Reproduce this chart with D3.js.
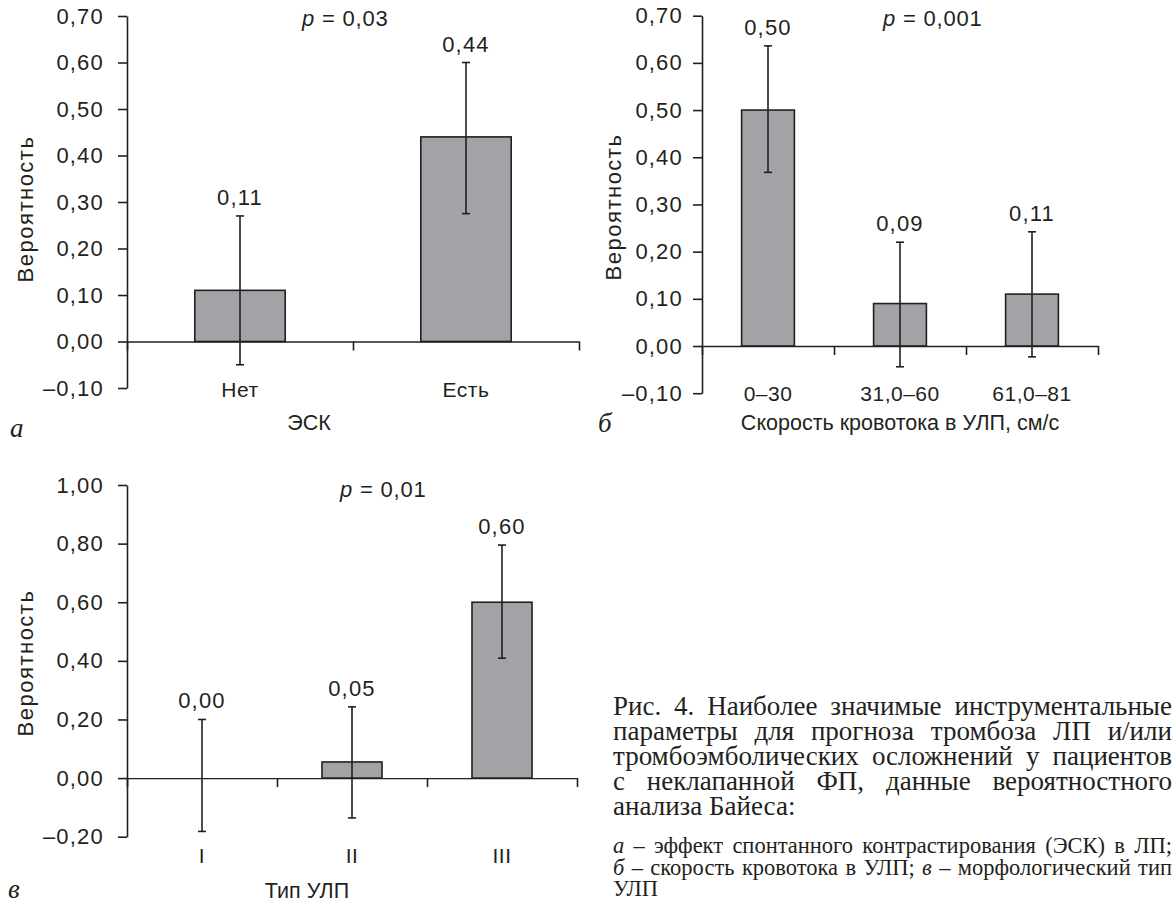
<!DOCTYPE html>
<html><head><meta charset="utf-8">
<script src="https://cdn.jsdelivr.net/npm/d3@7"></script>
<style>
html,body{margin:0;padding:0;background:#fff;}
svg{display:block;}
.sans{font-family:"Liberation Sans",Arial,Helvetica,sans-serif;}
.serif{font-family:"Liberation Serif","Times New Roman",serif;}
</style></head>
<body>
<svg id="chart" width="1176" height="906"></svg>
<script>
// ---------- DATA ----------
const catsA = ["Нет", "Есть"];
const valsA = [0.11, 0.44];
const lowA = [-0.05, 0.275];
const highA = [0.27, 0.60];
const labelsA = ["0,11", "0,44"];
const ticksA = [-0.1, 0, 0.1, 0.2, 0.3, 0.4, 0.5, 0.6, 0.7];

const catsB = ["0–30", "31,0–60", "61,0–81"];
const valsB = [0.50, 0.09, 0.11];
const lowB = [0.368, -0.044, -0.023];
const highB = [0.636, 0.22, 0.242];
const labelsB = ["0,50", "0,09", "0,11"];
const ticksB = [-0.1, 0, 0.1, 0.2, 0.3, 0.4, 0.5, 0.6, 0.7];

const catsC = ["I", "II", "III"];
const valsC = [0.0, 0.055, 0.60];
const lowC = [-0.182, -0.136, 0.409];
const highC = [0.20, 0.243, 0.795];
const labelsC = ["0,00", "0,05", "0,60"];
const ticksC = [-0.2, 0, 0.2, 0.4, 0.6, 0.8, 1.0];

const pA = "0,03", pB = "0,001", pC = "0,01";
const yTitle = "Вероятность";
const xTitleA = "ЭСК", xTitleB = "Скорость кровотока в УЛП, см/с", xTitleC = "Тип УЛП";

const captionMain = [
  "Рис. 4. Наиболее значимые инструментальные",
  "параметры для прогноза тромбоза ЛП и/или",
  "тромбоэмболических осложнений у пациентов",
  "с неклапанной ФП, данные вероятностного",
  "анализа Байеса:"
];
const captionNotes = [
  [["а", true], ["–", false], ["эффект", false], ["спонтанного", false], ["контрастирования", false], ["(ЭСК)", false], ["в", false], ["ЛП;", false]],
  [["б", true], ["–", false], ["скорость", false], ["кровотока", false], ["в", false], ["УЛП;", false], ["в", true], ["–", false], ["морфологический", false], ["тип", false]],
  [["УЛП", false]]
];

// ---------- DRAW ----------
const svg = d3.select("#chart");
const INK = "#231f20";
const BAR = "#a2a3a6";
const fmt = v => (v < -1e-9 ? "–" : "") + Math.abs(v).toFixed(2).replace(".", ",");

function panel(o) {
  const g = svg.append("g").attr("class", "sans");
  const y = d3.scaleLinear().domain(o.yDomain).range(o.yRange);
  const x = d3.scaleBand().domain(o.cats).range(o.xRange).paddingInner(0.6).paddingOuter(0.3);
  const xb = d3.scaleLinear().domain([0, o.cats.length]).range(o.xRange);

  // y axis
  const ya = g.append("g").attr("transform", `translate(${o.xRange[0]},0)`)
    .call(d3.axisLeft(y).tickValues(o.ticks).tickFormat(fmt).tickSize(9).tickSizeOuter(0).tickPadding(o.tickPad));
  ya.select(".domain").attr("stroke", INK).attr("stroke-width", 1.6);
  ya.selectAll(".tick line").attr("stroke", INK).attr("stroke-width", 1.6);
  ya.selectAll(".tick text").attr("font-family", null).attr("font-size", 22).attr("fill", INK).attr("letter-spacing", "1.2px");

  // bars
  g.selectAll("rect.bar").data(o.vals).join("rect")
    .attr("x", (d, i) => x(o.cats[i]))
    .attr("width", x.bandwidth())
    .attr("y", d => y(Math.max(0, d)))
    .attr("height", d => Math.abs(y(d) - y(0)))
    .attr("fill", BAR).attr("stroke", INK).attr("stroke-width", 1.6);

  // x axis (zero line + category boundary ticks)
  const xa = g.append("g").attr("transform", `translate(0,${y(0)})`)
    .call(d3.axisBottom(xb).tickValues(d3.range(o.cats.length + 1)).tickFormat("").tickSize(9).tickSizeOuter(0));
  xa.select(".domain").attr("stroke", INK).attr("stroke-width", 1.4);
  xa.selectAll(".tick line").attr("stroke", INK).attr("stroke-width", 1.6);

  // error bars
  const cx = i => x(o.cats[i]) + x.bandwidth() / 2;
  const eg = g.append("g").attr("stroke", INK).attr("stroke-width", 1.6).attr("fill", "none");
  o.vals.forEach((v, i) => {
    eg.append("line").attr("x1", cx(i)).attr("x2", cx(i)).attr("y1", y(o.low[i])).attr("y2", y(o.high[i]));
    eg.append("line").attr("x1", cx(i) - 4).attr("x2", cx(i) + 4).attr("y1", y(o.low[i])).attr("y2", y(o.low[i]));
    eg.append("line").attr("x1", cx(i) - 4).attr("x2", cx(i) + 4).attr("y1", y(o.high[i])).attr("y2", y(o.high[i]));
  });

  // value labels
  g.selectAll("text.val").data(o.labels).join("text").attr("class", "val")
    .attr("x", (d, i) => cx(i)).attr("y", (d, i) => y(o.high[i]) - 11)
    .attr("text-anchor", "middle").attr("font-size", 22).attr("fill", INK).attr("letter-spacing", "1.2px")
    .text(d => d);

  // category labels
  g.selectAll("text.cat").data(o.cats).join("text").attr("class", "cat")
    .attr("x", d => x(d) + x.bandwidth() / 2).attr("y", o.catY)
    .attr("text-anchor", "middle").attr("font-size", 21).attr("fill", INK).attr("letter-spacing", "0.5px")
    .text(d => d);

  // x title
  g.append("text").attr("x", o.xTitlePos[0]).attr("y", o.xTitlePos[1]).attr("text-anchor", "middle")
    .attr("font-size", 21.5).attr("fill", INK).text(o.xTitle);

  // y title
  g.append("text").attr("transform", `translate(${o.yTitlePos[0]},${o.yTitlePos[1]}) rotate(-90)`)
    .attr("text-anchor", "middle").attr("font-size", 22).attr("fill", INK).attr("letter-spacing", "1.5px").text(yTitle);

  // p value
  const pt = g.append("text").attr("x", o.pPos[0]).attr("y", o.pPos[1]).attr("font-size", 22).attr("fill", INK).attr("letter-spacing", "0.8px");
  pt.append("tspan").attr("font-style", "italic").text("p");
  pt.append("tspan").text(" = " + o.p);

  // panel letter
  svg.append("text").attr("class", "serif").attr("x", o.letterPos[0]).attr("y", o.letterPos[1])
    .attr("font-size", 27).attr("font-style", "italic").attr("fill", INK).text(o.letter);
}

panel({cats: catsA, vals: valsA, low: lowA, high: highA, labels: labelsA, ticks: ticksA,
  yDomain: [-0.1, 0.7], yRange: [388, 16], xRange: [127, 579], tickPad: 14,
  catY: 397, xTitle: xTitleA, xTitlePos: [309, 430], yTitlePos: [33, 209],
  p: pA, pPos: [302, 26], letter: "а", letterPos: [10, 437]});

panel({cats: catsB, vals: valsB, low: lowB, high: highB, labels: labelsB, ticks: ticksB,
  yDomain: [-0.1, 0.7], yRange: [393.2, 15.7], xRange: [702, 1098], tickPad: 10,
  catY: 401, xTitle: xTitleB, xTitlePos: [900, 430], yTitlePos: [621, 207],
  p: pB, pPos: [883, 26], letter: "б", letterPos: [598, 432]});

panel({cats: catsC, vals: valsC, low: lowC, high: highC, labels: labelsC, ticks: ticksC,
  yDomain: [-0.2, 1.0], yRange: [836.7, 485], xRange: [127, 577], tickPad: 14,
  catY: 863, xTitle: xTitleC, xTitlePos: [307, 898], yTitlePos: [33, 663],
  p: pC, pPos: [340, 497], letter: "в", letterPos: [8, 898]});

// ---------- CAPTION (justified) ----------
const capX0 = 613, capX1 = 1172;
function justifyLine(words, yPos, size, justify) {
  const g = svg.append("g").attr("class", "serif");
  const nodes = words.map(([w, it]) => g.append("text").attr("y", yPos).attr("font-size", size)
    .attr("font-style", it ? "italic" : null).attr("fill", INK).text(w));
  const widths = nodes.map(n => n.node().getComputedTextLength());
  const total = d3.sum(widths);
  const gap = justify && words.length > 1 ? (capX1 - capX0 - total) / (words.length - 1) : size * 0.25;
  let cx = capX0;
  nodes.forEach((n, i) => { n.attr("x", cx); cx += widths[i] + gap; });
}
const mainY = [715, 740, 765, 790, 815];
captionMain.forEach((line, i) => {
  justifyLine(line.split(" ").map(w => [w, false]), mainY[i], 27, i < captionMain.length - 1);
});
const noteY = [853, 875, 896];
captionNotes.forEach((words, i) => {
  justifyLine(words, noteY[i], 22.5, i < captionNotes.length - 1);
});
</script>
</body></html>
